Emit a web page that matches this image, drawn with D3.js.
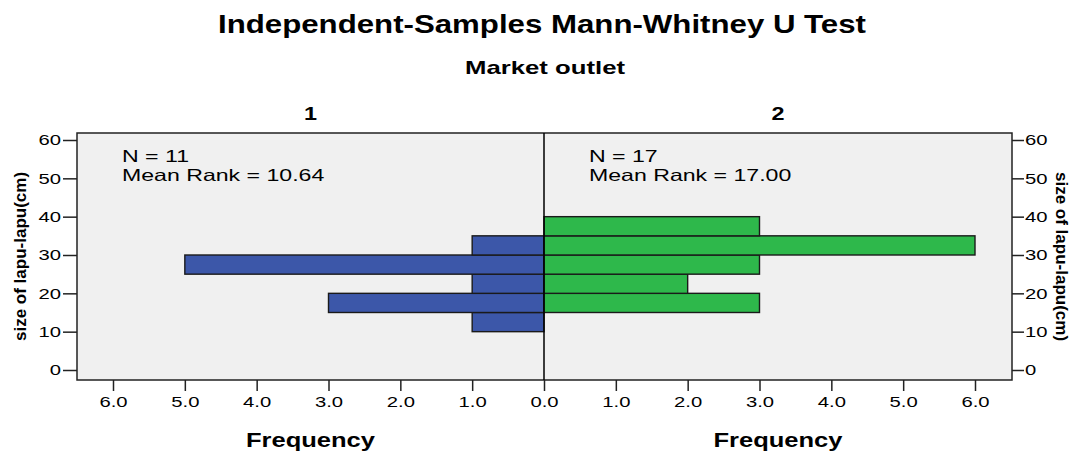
<!DOCTYPE html>
<html>
<head>
<meta charset="utf-8">
<script src="https://cdn.jsdelivr.net/npm/d3@7"></script>
<style>
  body { margin: 0; background: #fff; }
  text { font-family: "Liberation Sans", Arial, sans-serif; fill: #000; }
</style>
</head>
<body>
<div id="chart"></div>
<script>
const width = 1074
const height = 452

// bins of size (cm), lower edges
const binStarts = [10, 15, 20, 25, 30, 35]
const group1Counts = [1, 3, 1, 5, 1, 0]
const group2Counts = [0, 3, 2, 3, 6, 3]
const groupLabels = ["1", "2"]
const groupN = [11, 17]
const meanRanks = ["10.64", "17.00"]
const yTicks = [0, 10, 20, 30, 40, 50, 60]
const xTicks = [0, 1, 2, 3, 4, 5, 6]

const plotLeft = 77, plotRight = 1012, plotTop = 133, plotBottom = 380
const mid = 544

// the original picture is a bit wide, so text gets stretched horizontally
function stretch(sel, k) {
    sel.each(function () {
        const w = this.getComputedTextLength()
        this.setAttribute("textLength", w * k)
        this.setAttribute("lengthAdjust", "spacingAndGlyphs")
    })
}

const svg = d3.select("#chart").append("svg")
    .attr("width", width)
    .attr("height", height)

const y = d3.scaleLinear().domain([0, 60]).range([370, 140])
const xL = d3.scaleLinear().domain([0, 6]).range([mid, mid - 431])
const xR = d3.scaleLinear().domain([0, 6]).range([mid, mid + 431])

// title
svg.append("text")
    .attr("x", 542).attr("y", 33)
    .attr("text-anchor", "middle")
    .style("font-size", "25px").style("font-weight", "bold")
    .text("Independent-Samples Mann-Whitney U Test")
    .attr("textLength", 648).attr("lengthAdjust", "spacingAndGlyphs")

svg.append("text")
    .attr("x", 545).attr("y", 74)
    .attr("text-anchor", "middle")
    .style("font-size", "19px").style("font-weight", "bold")
    .text("Market outlet")
    .attr("textLength", 160).attr("lengthAdjust", "spacingAndGlyphs")

// plot background
svg.append("rect")
    .attr("x", plotLeft).attr("y", plotTop)
    .attr("width", plotRight - plotLeft).attr("height", plotBottom - plotTop)
    .attr("fill", "#f0f0f0")
    .attr("stroke", "#222").attr("stroke-width", 1.5)

const bw = 5

const barsL = svg.append("g")
barsL.selectAll("rect")
    .data(binStarts.map((b, i) => ({ b, c: group1Counts[i] })).filter(d => d.c > 0))
    .join("rect")
    .attr("x", d => xL(d.c))
    .attr("y", d => y(d.b + bw))
    .attr("width", d => xL(0) - xL(d.c))
    .attr("height", d => y(d.b) - y(d.b + bw))
    .attr("fill", "#3c57a9")
    .attr("stroke", "#1a1a1a").attr("stroke-width", 1.4)

const barsR = svg.append("g")
barsR.selectAll("rect")
    .data(binStarts.map((b, i) => ({ b, c: group2Counts[i] })).filter(d => d.c > 0))
    .join("rect")
    .attr("x", xR(0))
    .attr("y", d => y(d.b + bw))
    .attr("width", d => xR(d.c) - xR(0))
    .attr("height", d => y(d.b) - y(d.b + bw))
    .attr("fill", "#2eb84b")
    .attr("stroke", "#1a1a1a").attr("stroke-width", 1.4)

// center divider
svg.append("line")
    .attr("x1", mid).attr("x2", mid)
    .attr("y1", plotTop).attr("y2", plotBottom)
    .attr("stroke", "#000").attr("stroke-width", 1.5)

// axes
const styleAxis = g => {
    g.select(".domain").remove()
    g.selectAll(".tick line").attr("stroke", "#222").attr("stroke-width", 1.5)
    g.selectAll(".tick text").style("font-size", "15px").attr("fill", "#222")
        .call(stretch, 1.35)
}

svg.append("g")
    .attr("transform", `translate(${plotLeft},0)`)
    .call(d3.axisLeft(y).tickValues(yTicks).tickSize(14).tickPadding(2))
    .call(styleAxis)

svg.append("g")
    .attr("transform", `translate(${plotRight},0)`)
    .call(d3.axisRight(y).tickValues(yTicks).tickSize(12).tickPadding(1))
    .call(styleAxis)

svg.append("g")
    .attr("transform", `translate(0,${plotBottom})`)
    .call(d3.axisBottom(xL).tickValues(xTicks.slice(1)).tickFormat(d3.format(".1f")).tickSize(11).tickPadding(5))
    .call(styleAxis)

svg.append("g")
    .attr("transform", `translate(0,${plotBottom})`)
    .call(d3.axisBottom(xR).tickValues(xTicks).tickFormat(d3.format(".1f")).tickSize(11).tickPadding(5))
    .call(styleAxis)

// group headers, annotations, axis titles
const centers = [(plotLeft + mid) / 2, (mid + plotRight) / 2]
const annX = [122, 589]

centers.forEach((cx, i) => {
    svg.append("text")
        .attr("x", cx).attr("y", 120)
        .attr("text-anchor", "middle")
        .style("font-size", "18px").style("font-weight", "bold")
        .text(groupLabels[i])
        .call(stretch, 1.3)

    svg.append("text")
        .attr("x", cx).attr("y", 447)
        .attr("text-anchor", "middle")
        .style("font-size", "21px").style("font-weight", "bold")
        .text("Frequency")
        .attr("textLength", 129).attr("lengthAdjust", "spacingAndGlyphs")

    svg.append("text")
        .attr("x", annX[i]).attr("y", 162)
        .style("font-size", "16.5px")
        .text(`N = ${groupN[i]}`)
        .call(stretch, 1.4)

    svg.append("text")
        .attr("x", annX[i]).attr("y", 181)
        .style("font-size", "16.5px")
        .text(`Mean Rank = ${meanRanks[i]}`)
        .call(stretch, 1.4)
})

const yMid = (plotTop + plotBottom) / 2
svg.append("text")
    .attr("transform", `translate(26,${yMid}) rotate(-90)`)
    .attr("text-anchor", "middle")
    .style("font-size", "17px").style("font-weight", "bold")
    .text("size of lapu-lapu(cm)")

svg.append("text")
    .attr("transform", `translate(1056,${yMid}) rotate(90)`)
    .attr("text-anchor", "middle")
    .style("font-size", "17px").style("font-weight", "bold")
    .text("size of lapu-lapu(cm)")
</script>
</body>
</html>
